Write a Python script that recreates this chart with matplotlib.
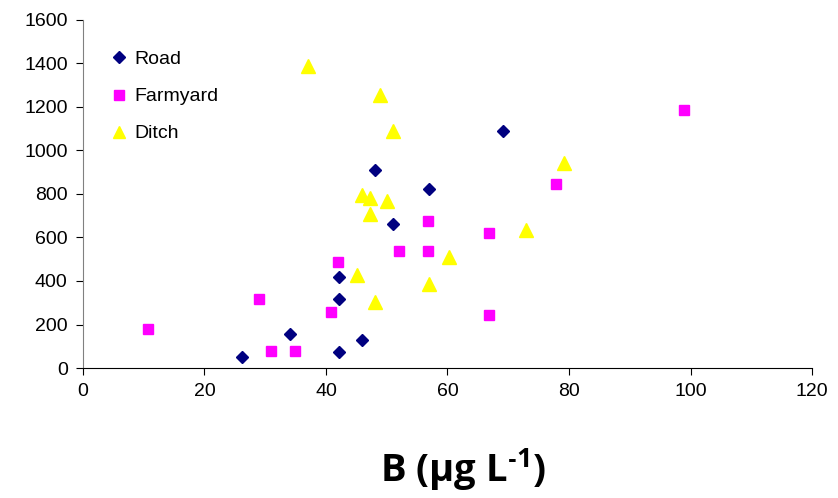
import matplotlib.pyplot as plt

# Road
road_x = [26.1, 34.1, 42.1, 42.1, 42.1, 45.9, 48.0, 51.0, 57.0, 69.1]
road_y = [52, 155, 316, 417, 75, 129, 910, 662, 824, 1088]

# Farmyard
farm_x = [10.7, 28.9, 31.0, 34.9, 40.8, 42.0, 52.1, 56.8, 56.8, 66.9, 66.9, 77.9, 98.9]
farm_y = [179, 319, 80, 80, 258, 489, 536, 674, 536, 621, 242, 846, 1185]

# Ditch
ditch_x = [37.0, 48.9, 51.0, 79.2, 45.9, 47.2, 50.1, 47.2, 73.0, 60.2, 45.1, 56.9, 48.0]
ditch_y = [1386, 1254, 1091, 944, 797, 782, 768, 707, 636, 512, 426, 388, 303]

x_ticks = [0, 20, 40, 60, 80, 100, 120]
y_ticks = [0, 200, 400, 600, 800, 1000, 1200, 1400, 1600]

plt.rcParams['font.family'] = ['Liberation Sans', 'DejaVu Sans']
plt.rcParams['mathtext.fontset'] = 'custom'
plt.rcParams['mathtext.rm'] = 'Open Sans'
plt.rcParams['mathtext.bf'] = 'Open Sans:bold'

fig = plt.figure(figsize=(8.38, 4.98), dpi=100)
ax = fig.add_axes([0.099, 0.261, 0.870, 0.699])

ax.plot(road_x, road_y, linestyle='none', marker='D', markersize=6.5,
        color='#000080', label='Road')
ax.plot(farm_x, farm_y, linestyle='none', marker='s', markersize=7.5,
        color='#FF00FF', label='Farmyard')
ax.plot(ditch_x, ditch_y, linestyle='none', marker='^', markersize=9.5,
        color='#FFFF00', label='Ditch')

ax.set_xlim(0, 120)
ax.set_ylim(0, 1600)
ax.set_xticks(x_ticks)
ax.set_yticks(y_ticks)
ax.tick_params(labelsize=14, direction='out', length=5, pad=6)
ax.spines['top'].set_visible(False)
ax.spines['right'].set_visible(False)
ax.spines['left'].set_color('#808080')
ax.spines['bottom'].set_color('black')

leg = ax.legend(loc='upper left', bbox_to_anchor=(0.015, 0.962), frameon=False,
                fontsize=14, handlelength=0.8, handletextpad=0.4,
                labelspacing=1.0, markerscale=0.9)

fig.text(0.553, 0.057, 'B (µg L$^{\\mathbf{\u2010}\\mathbf{1}}$)', fontsize=27.5,
         fontweight='bold', family='Open Sans', ha='center', va='center')

fig.savefig('out.png', dpi=100)
